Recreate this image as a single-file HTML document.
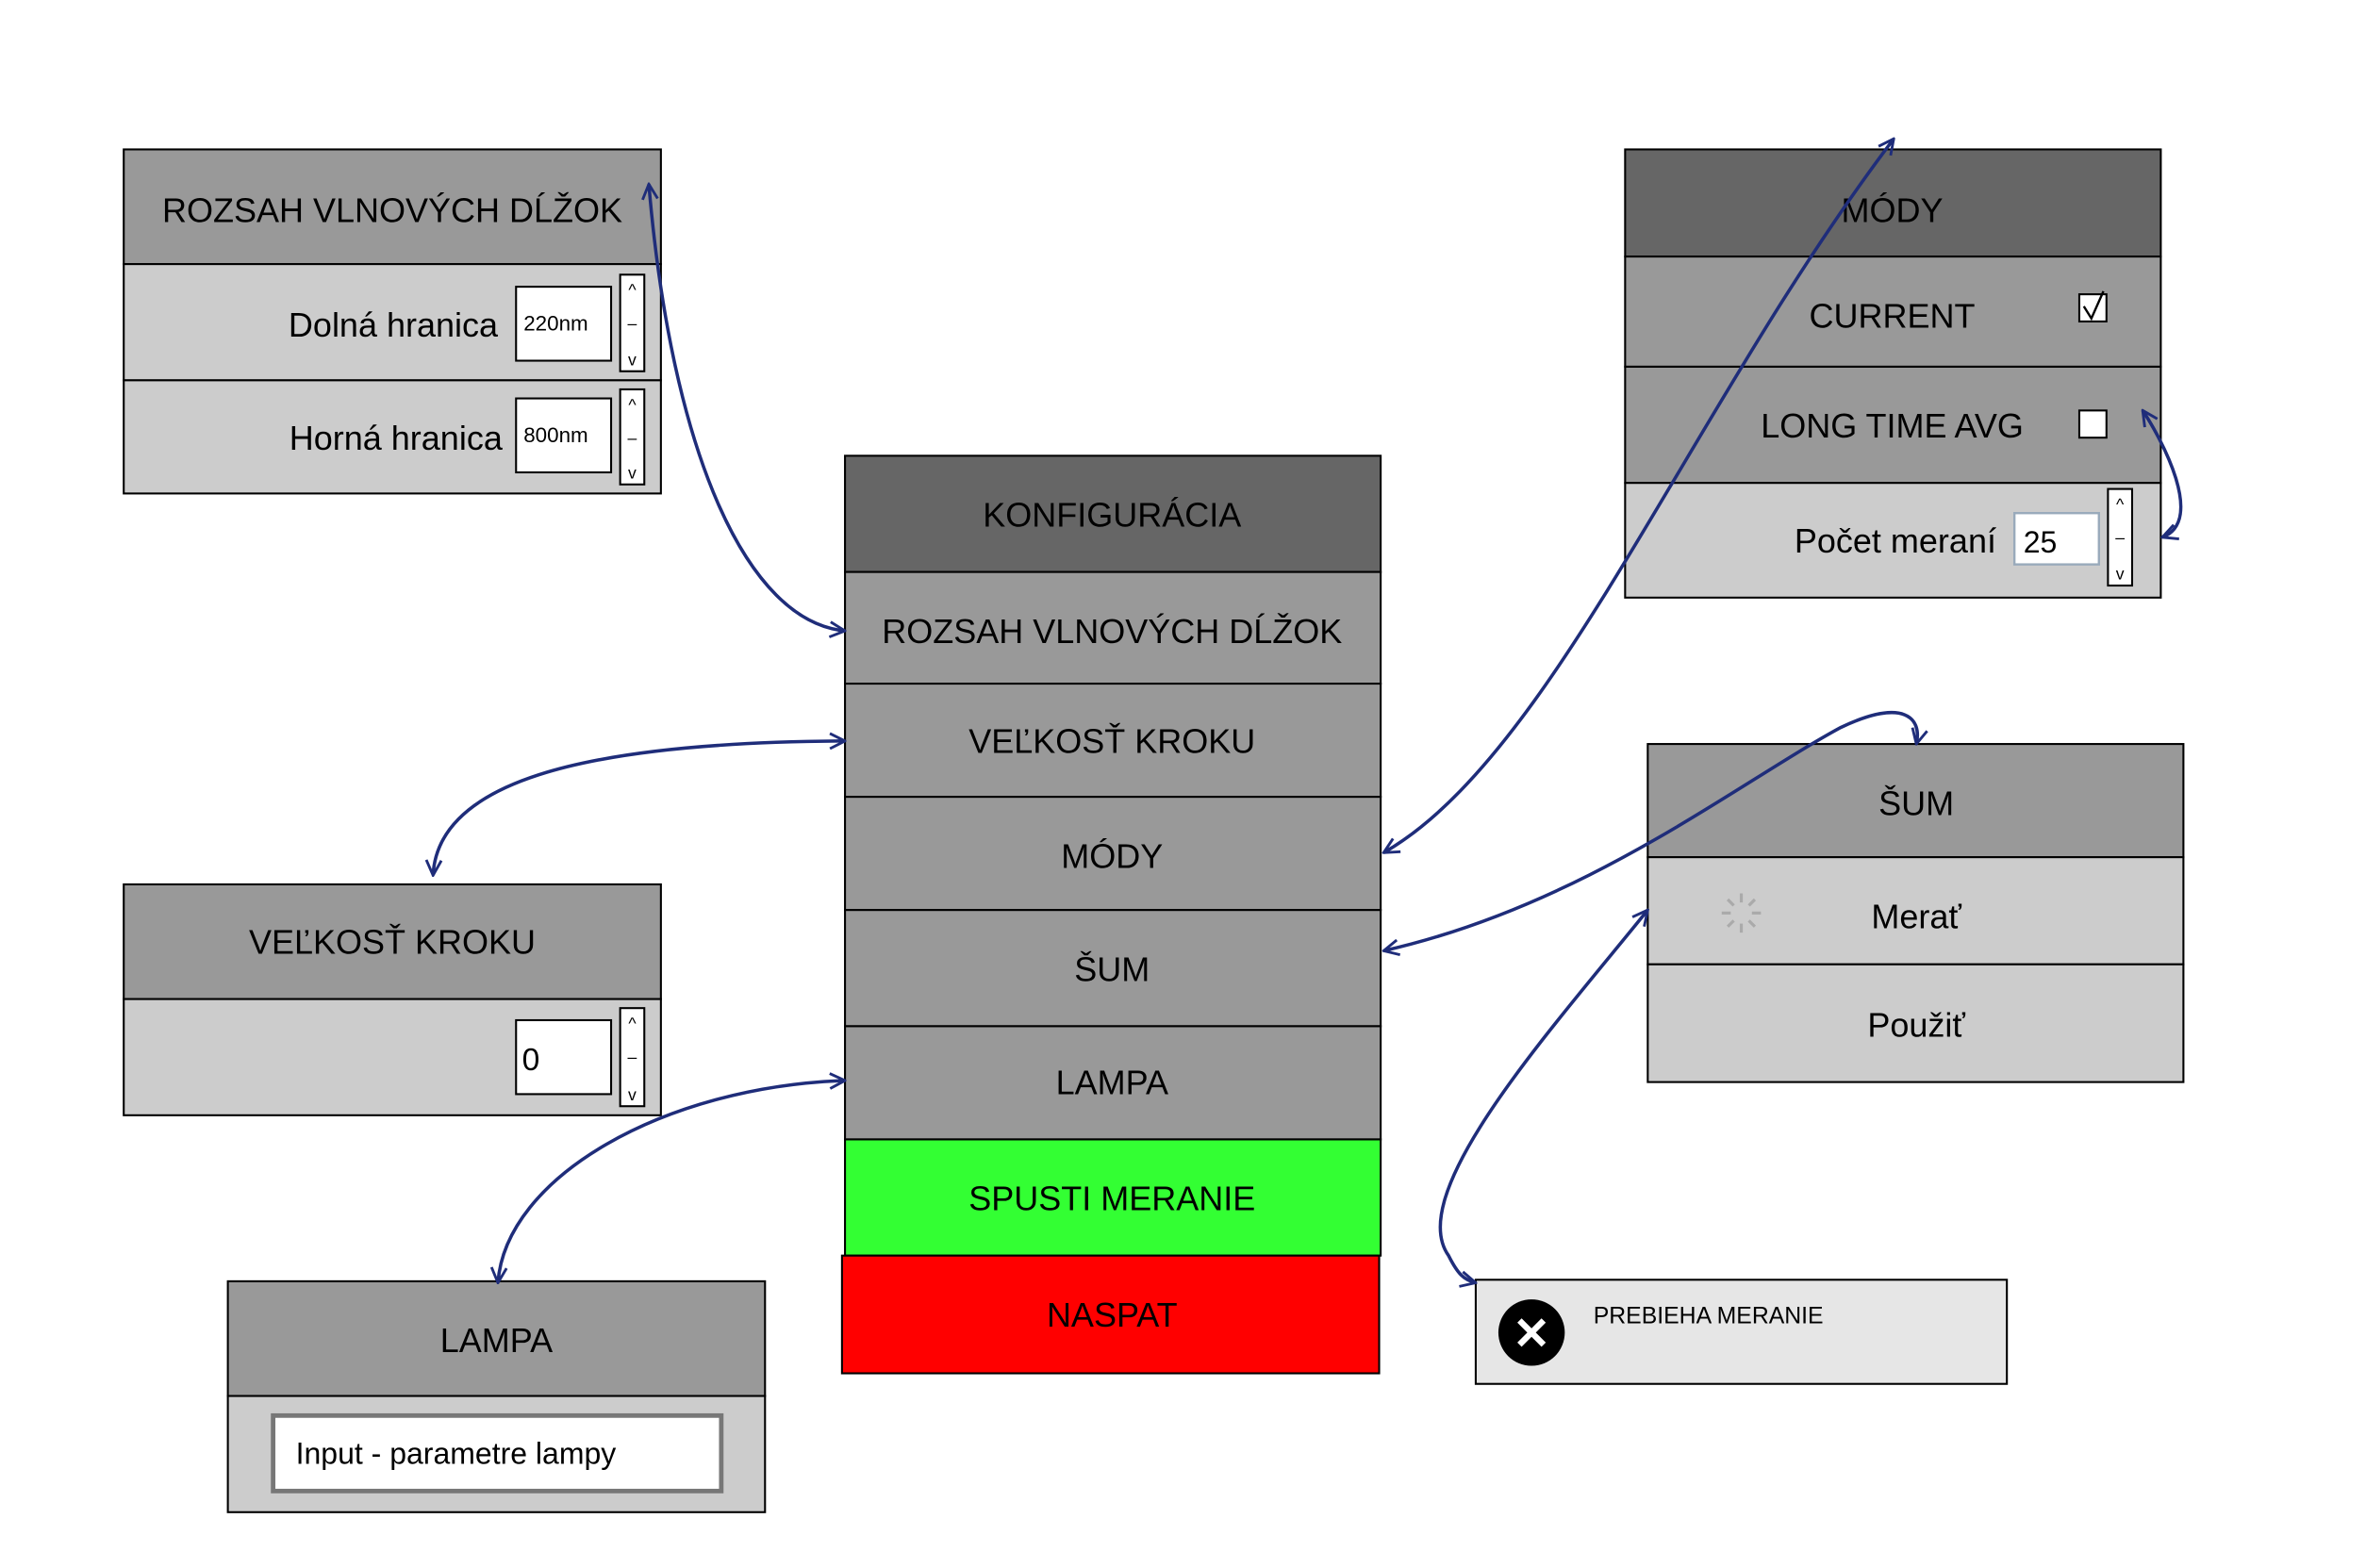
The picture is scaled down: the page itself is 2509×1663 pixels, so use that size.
<!DOCTYPE html>
<html><head><meta charset="utf-8"><style>
html,body{margin:0;padding:0;background:#fff;}
svg{display:block;}
text{font-family:"Liberation Sans","DejaVu Sans",sans-serif;fill:#000;}
</style></head><body>
<svg width="2509" height="1663" viewBox="0 0 1568 1039" preserveAspectRatio="none" xmlns="http://www.w3.org/2000/svg">
<defs>
<marker id="a" viewBox="0 0 12 12" refX="11" refY="6" markerWidth="12" markerHeight="12" markerUnits="userSpaceOnUse" orient="auto-start-reverse">
<path d="M1,1 L11,6 L1,11" fill="none" stroke="#1f2d7a" stroke-width="1.8"/>
</marker>
</defs>
<g stroke="#000" stroke-width="1.3">
<rect x="82" y="99" width="356" height="76" fill="#999"/>
<rect x="82" y="175" width="356" height="77" fill="#ccc"/>
<rect x="82" y="252" width="356" height="75" fill="#ccc"/>
<rect x="342" y="190" width="63" height="49" fill="#fff"/>
<rect x="411" y="182" width="16" height="64" fill="#fff"/>
<rect x="342" y="264" width="63" height="49" fill="#fff"/>
<rect x="411" y="258" width="16" height="63" fill="#fff"/>
<rect x="560" y="302" width="355" height="77" fill="#666"/>
<rect x="560" y="379" width="355" height="74" fill="#999"/>
<rect x="560" y="453" width="355" height="75" fill="#999"/>
<rect x="560" y="528" width="355" height="75" fill="#999"/>
<rect x="560" y="603" width="355" height="77" fill="#999"/>
<rect x="560" y="680" width="355" height="75" fill="#999"/>
<rect x="560" y="755" width="355" height="77" fill="#33ff33"/>
<rect x="558" y="832" width="356" height="78" fill="#ff0000"/>
<rect x="82" y="586" width="356" height="76" fill="#999"/>
<rect x="82" y="662" width="356" height="77" fill="#ccc"/>
<rect x="342" y="676" width="63" height="49" fill="#fff"/>
<rect x="411" y="668" width="16" height="65" fill="#fff"/>
<rect x="151" y="849" width="356" height="76" fill="#999"/>
<rect x="151" y="925" width="356" height="77" fill="#ccc"/>
<rect x="1077" y="99" width="355" height="71" fill="#666"/>
<rect x="1077" y="170" width="355" height="73" fill="#999"/>
<rect x="1077" y="243" width="355" height="77" fill="#999"/>
<rect x="1077" y="320" width="355" height="76" fill="#ccc"/>
<rect x="1378" y="195" width="18" height="18" fill="#fff"/>
<rect x="1378" y="272" width="18" height="18" fill="#fff"/>
<rect x="1397" y="324" width="16" height="64" fill="#fff"/>
<rect x="1092" y="493" width="355" height="75" fill="#999"/>
<rect x="1092" y="568" width="355" height="71" fill="#ccc"/>
<rect x="1092" y="639" width="355" height="78" fill="#ccc"/>
<rect x="978" y="848" width="352" height="69" fill="#e6e6e6"/>
</g>
<rect x="181" y="938" width="297" height="50" fill="#fff" stroke="#777" stroke-width="3"/>
<rect x="1335" y="340" width="56" height="34" fill="#fff" stroke="#9ab" stroke-width="1.5"/>
<g font-size="11" text-anchor="middle" fill="#000">
<text x="419" y="196">^</text><text x="419" y="218">–</text><text x="419" y="242">v</text>
<text x="419" y="272">^</text><text x="419" y="294">–</text><text x="419" y="317">v</text>
<text x="419" y="682">^</text><text x="419" y="704">–</text><text x="419" y="729">v</text>
<text x="1405" y="338">^</text><text x="1405" y="360">–</text><text x="1405" y="384">v</text>
</g>
<path d="M1381,203 L1386,211 L1394,193" fill="none" stroke="#000" stroke-width="1.5"/>
<g font-size="22.5" text-anchor="middle">
<text x="260" y="147">ROZSAH VLNOVÝCH DĹŽOK</text>
<text x="737" y="349">KONFIGURÁCIA</text>
<text x="737" y="426">ROZSAH VLNOVÝCH DĹŽOK</text>
<text x="737" y="499">VEĽKOSŤ KROKU</text>
<text x="737" y="575">MÓDY</text>
<text x="737" y="650">ŠUM</text>
<text x="737" y="725">LAMPA</text>
<text x="737" y="802">SPUSTI MERANIE</text>
<text x="737" y="879">NASPAT</text>
<text x="260" y="632">VEĽKOSŤ KROKU</text>
<text x="329" y="896">LAMPA</text>
<text x="1254" y="147">MÓDY</text>
<text x="1254" y="217">CURRENT</text>
<text x="1254" y="290">LONG TIME AVG</text>
<text x="1270" y="540">ŠUM</text>
<text x="1270" y="615">Merať</text>
<text x="1270" y="687">Použiť</text>
</g>
<g font-size="22.5" text-anchor="end">
<text x="330" y="223">Dolná hranica</text>
<text x="333" y="298">Horná hranica</text>
<text x="1323" y="366">Počet meraní</text>
</g>
<g font-size="14">
<text x="347" y="219">220nm</text>
<text x="347" y="293">800nm</text>
</g>
<text x="346" y="709" font-size="21">0</text>
<text x="1341" y="366" font-size="20">25</text>
<text x="196" y="970" font-size="20">Input - parametre lampy</text>
<text x="1056" y="877" font-size="15.5">PREBIEHA MERANIE</text>
<circle cx="1015" cy="883" r="22" fill="#000"/>
<path d="M1007,875 L1023,891 M1023,875 L1007,891" stroke="#fff" stroke-width="4"/>
<g stroke="#aaa" stroke-width="2">
<line x1="1154" y1="592" x2="1154" y2="598"/><line x1="1163" y1="596" x2="1159" y2="600"/>
<line x1="1167" y1="605" x2="1161" y2="605"/><line x1="1163" y1="614" x2="1159" y2="610"/>
<line x1="1154" y1="618" x2="1154" y2="612"/><line x1="1145" y1="614" x2="1149" y2="610"/>
<line x1="1141" y1="605" x2="1147" y2="605"/><line x1="1145" y1="596" x2="1149" y2="600"/>
</g>
<g fill="none" stroke="#1f2d7a" stroke-width="2.2" marker-start="url(#a)" marker-end="url(#a)">
<path d="M430,122 C445,300 495,412 560,418"/>
<path d="M560,491 C380,492 290,520 287,580"/>
<path d="M560,716 C440,720 335,780 330,850"/>
<path d="M917,565 C1030,500 1120,270 1255,92"/>
<path d="M917,630 C1050,600 1150,520 1220,482 C1262,462 1274,476 1270,493"/>
<path d="M1092,603 C1030,680 930,790 960,832 C966,844 970,848 978,850"/>
<path d="M1420,272 C1432,290 1462,345 1433,356"/>
</g>
</svg>
</body></html>
